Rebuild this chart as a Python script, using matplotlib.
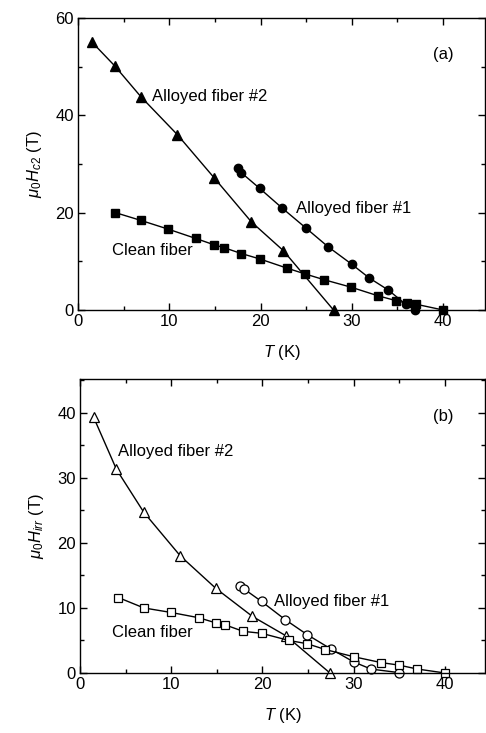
import matplotlib
matplotlib.use("Agg")
import matplotlib.pyplot as plt
from matplotlib.ticker import MultipleLocator

plt.rcParams['font.family'] = ['Liberation Sans', 'DejaVu Sans']
plt.rcParams['mathtext.fontset'] = 'custom'
plt.rcParams['mathtext.rm'] = 'Liberation Sans'
plt.rcParams['mathtext.it'] = 'Liberation Sans:italic'

# Panel (a): upper critical field
a2_T = [1.5, 4.0, 6.9, 10.9, 14.9, 19.0, 22.5, 28.0]
a2_H = [55.1, 50.2, 43.8, 36.0, 27.2, 18.1, 12.2, 0.0]
a1_T = [17.5, 17.9, 19.9, 22.4, 25.0, 27.4, 30.0, 31.9, 34.0, 35.9, 36.9]
a1_H = [29.2, 28.2, 25.0, 20.9, 16.8, 13.0, 9.4, 6.6, 4.1, 1.2, 0.0]
cl_T = [4.1, 6.9, 9.9, 12.9, 14.9, 16.0, 17.9, 19.9, 22.9, 24.9, 27.0, 29.9, 32.9, 34.9, 36.0, 37.0, 40.0]
cl_H = [20.0, 18.4, 16.6, 14.7, 13.4, 12.8, 11.6, 10.5, 8.6, 7.4, 6.2, 4.7, 2.9, 1.9, 1.4, 1.2, 0.0]

# Panel (b): irreversibility field
b2_T = [1.5, 4.0, 7.0, 11.0, 14.9, 18.9, 22.6, 27.4]
b2_H = [39.3, 31.3, 24.7, 18.0, 13.0, 8.7, 5.7, 0.0]
b1_T = [17.5, 18.0, 19.9, 22.5, 24.9, 27.5, 30.0, 31.9, 35.0]
b1_H = [13.4, 12.9, 11.0, 8.2, 5.9, 3.7, 1.7, 0.6, 0.05]
bc_T = [4.2, 7.0, 10.0, 13.0, 14.9, 15.9, 17.9, 19.9, 22.9, 24.9, 26.9, 30.0, 33.0, 35.0, 37.0, 40.0]
bc_H = [11.6, 10.0, 9.3, 8.5, 7.7, 7.4, 6.4, 6.1, 5.0, 4.5, 3.6, 2.5, 1.6, 1.2, 0.6, 0.0]

fig = plt.figure(figsize=(4.86, 7.33), dpi=100)
ax1 = fig.add_axes([0.1605, 0.5771, 0.8374, 0.3984])
ax2 = fig.add_axes([0.1646, 0.0819, 0.8333, 0.4010])

FS = 12
lw = 1.0

def style(ax, ymaj, ymin):
    ax.xaxis.set_major_locator(MultipleLocator(10))
    ax.xaxis.set_minor_locator(MultipleLocator(5))
    ax.yaxis.set_major_locator(MultipleLocator(ymaj))
    ax.yaxis.set_minor_locator(MultipleLocator(ymin))
    ax.tick_params(which='both', direction='in', top=True, right=True, labelsize=FS, pad=3)
    ax.tick_params(which='major', length=5, width=1)
    ax.tick_params(which='minor', length=3, width=1)
    for s in ax.spines.values():
        s.set_linewidth(1.0)
    ax.set_xlabel(r'$T$ (K)', fontsize=FS, labelpad=10)

# (a)
ax1.plot(a2_T, a2_H, '-', color='black', lw=lw, marker='^', ms=7, mfc='black', mec='black', clip_on=False)
ax1.plot(a1_T, a1_H, '-', color='black', lw=lw, marker='o', ms=6, mfc='black', mec='black', clip_on=False)
ax1.plot(cl_T, cl_H, '-', color='black', lw=lw, marker='s', ms=5.5, mfc='black', mec='black', clip_on=False)
ax1.set_xlim(0, 44.6)
ax1.set_ylim(0, 60)
style(ax1, 20, 10)
ax1.set_ylabel(r'$\mu_0H_{c2}$ (T)', fontsize=FS, labelpad=8)
ax1.text(8.1, 43.8, 'Alloyed fiber #2', fontsize=FS, va='center', ha='left')
ax1.text(23.9, 20.9, 'Alloyed fiber #1', fontsize=FS, va='center', ha='left')
ax1.text(3.7, 12.2, 'Clean fiber', fontsize=FS, va='center', ha='left')
ax1.text(38.9, 52.4, '(a)', fontsize=FS, va='center', ha='left')

# (b)
ax2.plot(b2_T, b2_H, '-', color='black', lw=lw, marker='^', ms=7.5, mfc='white', mec='black', mew=0.9, clip_on=False)
ax2.plot(b1_T, b1_H, '-', color='black', lw=lw, marker='o', ms=6.5, mfc='white', mec='black', mew=0.9, clip_on=False)
ax2.plot(bc_T, bc_H, '-', color='black', lw=lw, marker='s', ms=6, mfc='white', mec='black', mew=0.9, clip_on=False)
ax2.set_xlim(0, 44.4)
ax2.set_ylim(0, 45.2)
style(ax2, 10, 5)
ax2.set_ylabel(r'$\mu_0H_{irr}$ (T)', fontsize=FS, labelpad=8)
ax2.text(4.2, 34.0, 'Alloyed fiber #2', fontsize=FS, va='center', ha='left')
ax2.text(21.3, 11.0, 'Alloyed fiber #1', fontsize=FS, va='center', ha='left')
ax2.text(3.5, 6.2, 'Clean fiber', fontsize=FS, va='center', ha='left')
ax2.text(38.7, 39.4, '(b)', fontsize=FS, va='center', ha='left')

fig.savefig('out.png', dpi=100)
